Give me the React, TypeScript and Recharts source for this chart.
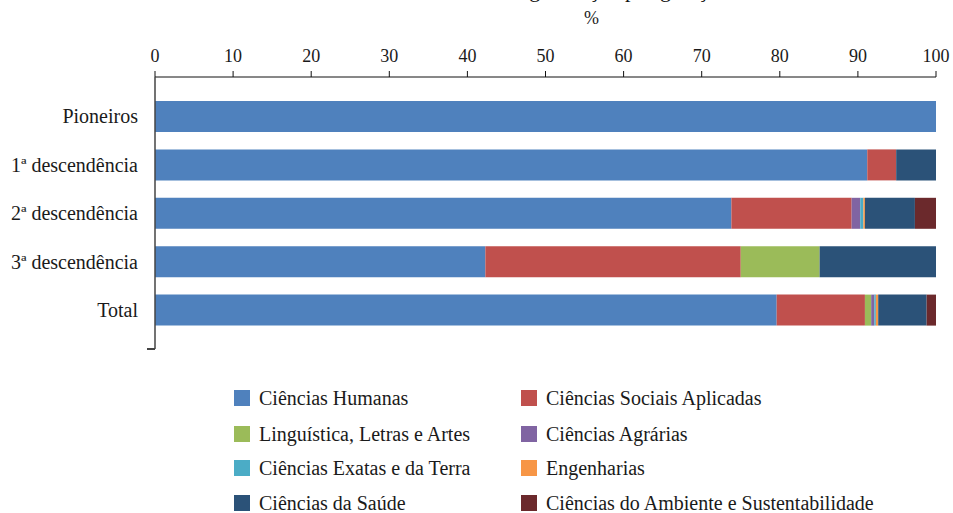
import React from "react";
import { BarChart, Bar, XAxis, YAxis } from "recharts";

const categories = ["Pioneiros", "1ª descendência", "2ª descendência", "3ª descendência", "Total"];

const seriesNames = [
  "Ciências Humanas",
  "Ciências Sociais Aplicadas",
  "Linguística, Letras e Artes",
  "Ciências Agrárias",
  "Ciências Exatas e da Terra",
  "Engenharias",
  "Ciências da Saúde",
  "Ciências do Ambiente e Sustentabilidade",
];

const colors = ["#4F81BD", "#C0504D", "#9BBB59", "#8064A2", "#4BACC6", "#F79646", "#2B5278", "#6B292C"];

// values per category, in series order
const humanas = [100, 91.2, 73.8, 42.3, 79.6];
const sociais = [0, 3.7, 15.4, 32.7, 11.3];
const linguistica = [0, 0, 0, 10.1, 0.8];
const agrarias = [0, 0, 1.1, 0, 0.4];
const exatas = [0, 0, 0.4, 0, 0.2];
const engenharias = [0, 0, 0.2, 0, 0.3];
const saude = [0, 5.1, 6.4, 14.9, 6.2];
const ambiente = [0, 0, 2.7, 0, 1.2];

const xTicks = [0, 10, 20, 30, 40, 50, 60, 70, 80, 90, 100];

const seriesValues = [humanas, sociais, linguistica, agrarias, exatas, engenharias, saude, ambiente];

const data = categories.map((name, i) => {
  const row: Record<string, number | string> = { name };
  seriesNames.forEach((s, j) => {
    row[s] = seriesValues[j][i];
  });
  return row;
});

const font = "'Liberation Serif', 'DejaVu Serif', serif";

export default function App() {
  return (
    <div style={{ position: "absolute", left: 0, top: 0, width: 953, height: 513, fontFamily: font, overflow: "hidden", background: "#fff" }}>
      <div style={{ position: "absolute", left: 0, width: 953, top: -22, paddingLeft: 230, boxSizing: "border-box", textAlign: "center", fontSize: 22, color: "#111", lineHeight: "24px" }}>
        Área de graduação por geração
      </div>
      <div style={{ position: "absolute", left: 0, width: 953, top: 8, paddingLeft: 230, boxSizing: "border-box", textAlign: "center", fontSize: 18, color: "#222" }}>
        %
      </div>
      <BarChart
        width={953}
        height={513}
        data={data}
        layout="vertical"
        margin={{ top: 47, right: 17, bottom: 164, left: 0 }}
        barSize={31}
      >
        <XAxis
          type="number"
          orientation="top"
          domain={[0, 100]}
          ticks={xTicks}
          height={30}
          tickSize={6}
          tickMargin={9}
          stroke="#111"
          tick={{ fill: "#1a1a1a", fontSize: 18, fontFamily: font }}
          axisLine={{ stroke: "#111" }}
          tickLine={{ stroke: "#111" }}
        />
        <YAxis
          type="category"
          dataKey="name"
          width={155}
          padding={{ top: 15, bottom: 15 }}
          tickSize={0}
          tickMargin={17}
          tickLine={false}
          axisLine={{ stroke: "#444", strokeWidth: 1.5 }}
          tick={{ fill: "#1a1a1a", fontSize: 20, fontFamily: font }}
        />
        {seriesNames.map((s, j) => (
          <Bar key={s} dataKey={s} stackId="a" fill={colors[j]} isAnimationActive={false} />
        ))}
      </BarChart>
      <div style={{ position: "absolute", left: 147, top: 348, width: 8, height: 1.5, background: "#444" }} />
      {seriesNames.map((s, j) => {
        const col = j % 2;
        const row = Math.floor(j / 2);
        const cy = [398, 434, 468, 503][row];
        const left = col === 0 ? 234 : 521;
        return (
          <div key={s} style={{ position: "absolute", left, top: cy - 12, height: 24, display: "flex", alignItems: "center", fontSize: 20, color: "#1a1a1a", whiteSpace: "nowrap" }}>
            <span style={{ display: "inline-block", width: 16, height: 16, background: colors[j], marginRight: 9 }} />
            {s}
          </div>
        );
      })}
    </div>
  );
}
